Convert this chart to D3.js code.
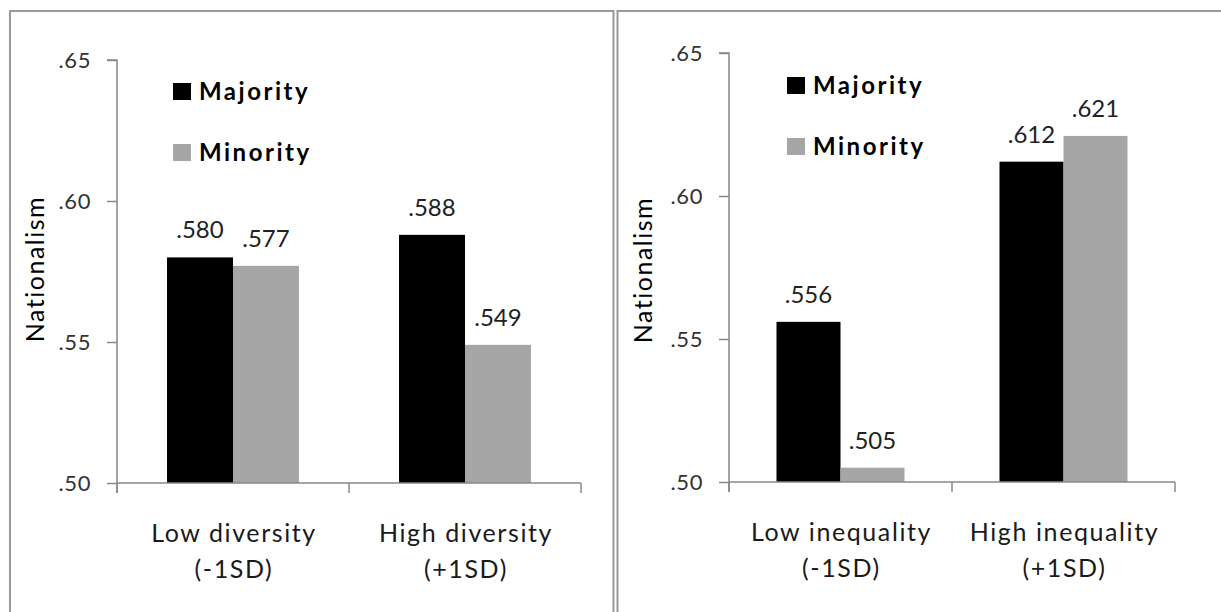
<!DOCTYPE html>
<html>
<head>
<meta charset="utf-8">
<script src="https://cdn.jsdelivr.net/npm/d3@7"></script>
<style>
  body { margin: 0; background: #fff; }
  svg { display: block; }
</style>
</head>
<body>
<svg id="chart" width="1221" height="612"></svg>
<script>
// Series and values
const seriesNames = ["Majority", "Minority"];
const seriesColors = ["#000000", "#a6a6a6"];

const diversityCategories = ["Low diversity", "High diversity"];
const diversitySubLabels = ["(-1SD)", "(+1SD)"];
const diversityMajority = [0.580, 0.588];
const diversityMinority = [0.577, 0.549];

const inequalityCategories = ["Low inequality", "High inequality"];
const inequalitySubLabels = ["(-1SD)", "(+1SD)"];
const inequalityMajority = [0.556, 0.612];
const inequalityMinority = [0.505, 0.621];

const yTicks = [0.50, 0.55, 0.60, 0.65];
const yTickLabels = [".50", ".55", ".60", ".65"];
const yTitle = "Nationalism";

const svg = d3.select("#chart");
const FONT = "Lato, 'Open Sans', sans-serif";
const AXIS_COLOR = "#888888";
const FRAME_COLOR = "#999999";

// Panel frames (clipped by the page edges at the bottom and right)
svg.append("rect").attr("x", 10).attr("y", 11).attr("width", 603.5).attr("height", 700)
  .attr("fill", "none").attr("stroke", FRAME_COLOR).attr("stroke-width", 2);
svg.append("rect").attr("x", 617.5).attr("y", 11).attr("width", 700).attr("height", 700)
  .attr("fill", "none").attr("stroke", FRAME_COLOR).attr("stroke-width", 2);

function drawPanel(cfg) {
  const g = svg.append("g");
  const cats = cfg.categories;
  const rows = cats.map((c, i) => ({ cat: c, sub: cfg.subLabels[i], values: [cfg.majority[i], cfg.minority[i]] }));

  const y = d3.scaleLinear().domain([0.50, 0.65]).range([cfg.bottom, cfg.top]);
  const x0 = d3.scaleBand().domain(cats).range([cfg.left, cfg.right]).paddingInner(0).paddingOuter(0);
  const x1 = d3.scaleBand().domain(seriesNames).range([0, x0.bandwidth()]).paddingInner(0).paddingOuter(cfg.outerPad);

  // Bars with their value labels
  rows.forEach(r => {
    r.values.forEach((v, j) => {
      const bx = x0(r.cat) + x1(seriesNames[j]);
      g.append("rect")
        .attr("x", bx).attr("width", x1.bandwidth())
        .attr("y", y(v)).attr("height", y(0.50) - y(v))
        .attr("fill", seriesColors[j]);
      g.append("text")
        .attr("x", bx + x1.bandwidth() / 2).attr("y", y(v) - 19)
        .attr("text-anchor", "middle")
        .attr("font-family", FONT).attr("font-size", 24)
        .attr("fill", "#222")
        .text(d3.format(".3f")(v).replace(/^0/, ""));
    });
  });

  // Y axis
  const yAxis = d3.axisLeft(y).tickValues(yTicks)
    .tickFormat((d, i) => yTickLabels[i]).tickSize(10).tickPadding(16);
  const ya = g.append("g").attr("transform", `translate(${cfg.left},0)`).call(yAxis);
  ya.select(".domain").attr("stroke", AXIS_COLOR).attr("stroke-width", 1.5)
    .attr("d", `M-10,${cfg.top}H0V${cfg.bottom + 10}`);
  ya.selectAll(".tick line").attr("stroke", AXIS_COLOR).attr("stroke-width", 1.5);
  ya.selectAll(".tick text").attr("font-family", FONT).attr("font-size", 22)
    .attr("letter-spacing", 0.6).attr("fill", "#333").attr("dy", "0.34em");

  // X axis
  const xAxis = d3.axisBottom(x0).tickValues([]).tickSize(0);
  const xa = g.append("g").attr("transform", `translate(0,${cfg.bottom})`).call(xAxis);
  xa.select(".domain").attr("stroke", AXIS_COLOR).attr("stroke-width", 1.5)
    .attr("d", `M${cfg.left},0H${cfg.right}`);
  [cfg.left, ...cats.slice(1).map(c => x0(c)), cfg.right].forEach(px => {
    xa.append("line").attr("x1", px).attr("x2", px).attr("y1", 0).attr("y2", 10)
      .attr("stroke", AXIS_COLOR).attr("stroke-width", 1.5);
  });

  // Category labels (two lines)
  rows.forEach(r => {
    const cx = x0(r.cat) + x0.bandwidth() / 2 + 1;
    const t = g.append("text").attr("text-anchor", "middle")
      .attr("font-family", FONT).attr("font-size", 25).attr("letter-spacing", 1.6)
      .attr("fill", "#1a1a1a");
    t.append("tspan").attr("x", cx).attr("y", cfg.bottom + 59).text(r.cat);
    t.append("tspan").attr("x", cx).attr("y", cfg.bottom + 95).text(r.sub);
  });

  // Y title
  g.append("text")
    .attr("transform", `translate(${cfg.titleX},${cfg.titleY}) rotate(-90)`)
    .attr("text-anchor", "middle")
    .attr("font-family", FONT).attr("font-size", 25).attr("letter-spacing", 1.5)
    .attr("fill", "#000")
    .text(yTitle);

  // Legend
  seriesNames.forEach((name, j) => {
    const ly = cfg.legendY[j];
    g.append("rect").attr("x", cfg.legendX).attr("y", ly - 17).attr("width", 18).attr("height", 17)
      .attr("fill", seriesColors[j]);
    g.append("text").attr("x", cfg.legendX + 26).attr("y", ly)
      .attr("font-family", FONT).attr("font-size", 24).attr("font-weight", "bold")
      .attr("letter-spacing", 2.5).attr("fill", "#000")
      .text(name);
  });
}

drawPanel({
  categories: diversityCategories, subLabels: diversitySubLabels,
  majority: diversityMajority, minority: diversityMinority,
  left: 117, right: 581, top: 60, bottom: 483, outerPad: 0.758,
  titleX: 44, titleY: 269, legendX: 173, legendY: [100, 161]
});

drawPanel({
  categories: inequalityCategories, subLabels: inequalitySubLabels,
  majority: inequalityMajority, minority: inequalityMinority,
  left: 729, right: 1175, top: 53, bottom: 482, outerPad: 0.742,
  titleX: 652, titleY: 270, legendX: 787, legendY: [94, 155]
});
</script>
</body>
</html>
